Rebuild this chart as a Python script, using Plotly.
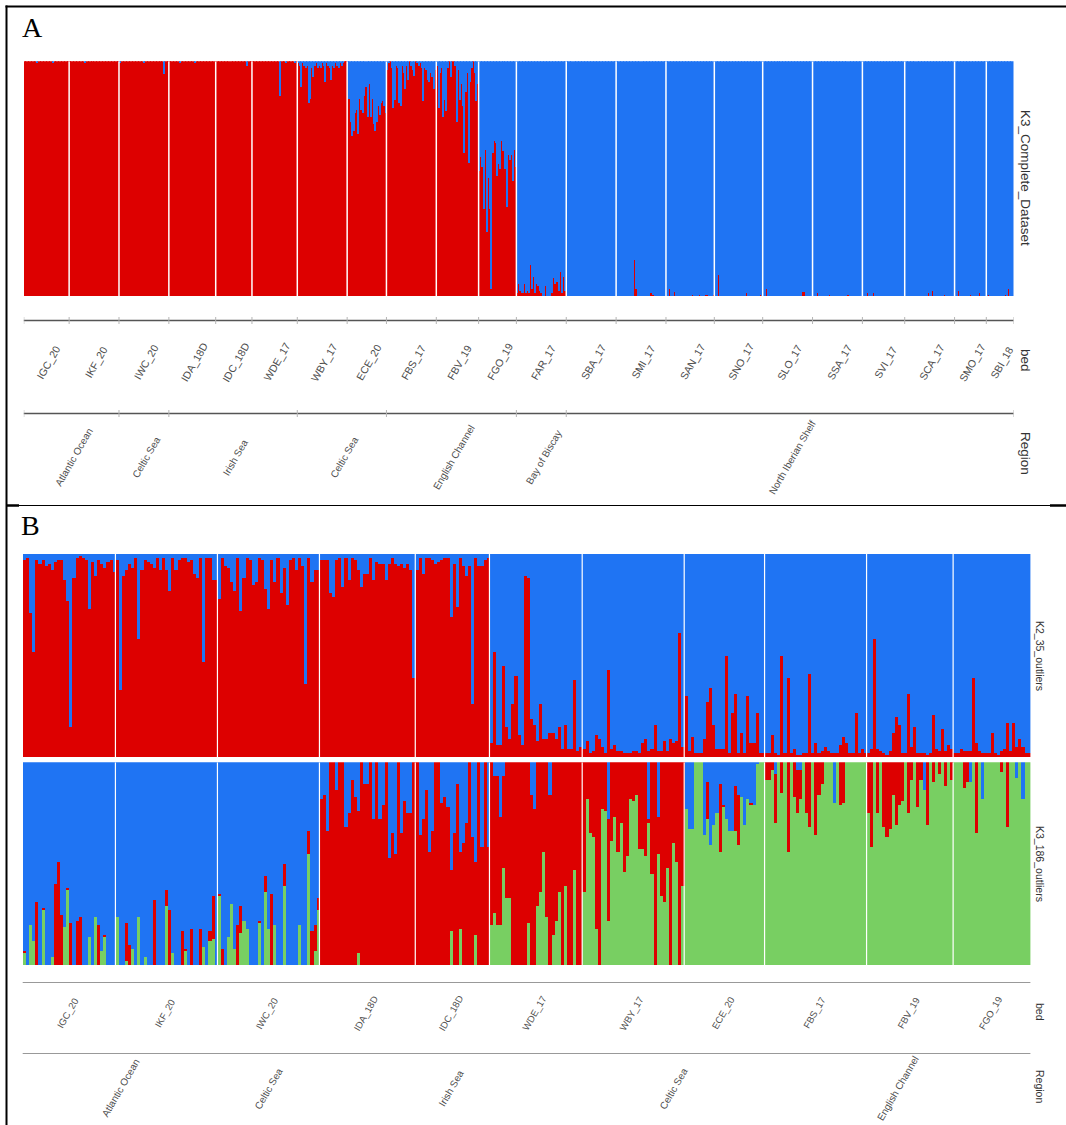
import plotly.graph_objects as go

W, H = 1066, 1125
RED, BLUE, GREEN = "#DD0000", "#1F74F3", "#78CF62"
TXT = "#4d4d4d"
STRIP = "#333333"
SANS = "Liberation Sans, Arial, sans-serif"
SERIF = "Liberation Serif, Times New Roman, serif"

# ------------------------------------------------------------------ data
# Panel A : K3_Complete_Dataset  (proportion of the red cluster per individual; rest is blue)
beds_A = ["IGC_20", "IKF_20", "IWC_20", "IDA_18D", "IDC_18D", "WDE_17", "WBY_17", "ECE_20",
          "FBS_17", "FBV_19", "FGO_19", "FAR_17", "SBA_17", "SMI_17", "SAN_17", "SNO_17",
          "SLO_17", "SSA_17", "SVI_17", "SCA_17", "SMO_17", "SBI_18"]
regions_A = ["Atlantic Ocean", "Celtic Sea", "Irish Sea", "Celtic Sea", "English Channel",
             "Bay of Biscay", "North Iberian Shelf"]
region_nbeds_A = [2, 1, 3, 2, 3, 1, 10]

a_IGC_20 = [1, 1, 1, 1, 1, 1, 1, 1, 0.99, 1, 1, 1, 1, 1, 1, 1, 1, 1, 1, 0.99, 1, 1, 1, 1, 1, 1, 1, 1, 1, 1]
a_IKF_20 = [1, 1, 1, 1, 1, 1, 1, 1, 1, 1, 0.99, 1, 1, 1, 1, 1, 1, 1, 1, 1, 1, 1, 1, 1, 1, 1, 1, 1, 1, 1, 1, 1, 1]
a_IWC_20 = [0.99, 1, 1, 1, 1, 1, 1, 1, 1, 1, 1, 1, 1, 1, 1, 1, 0.99, 1, 1, 1, 1, 1, 1, 1, 1, 1, 1, 1, 1, 0.945, 1, 1, 1]
a_IDA_18D = [1, 1, 1, 1, 1, 1, 1, 0.99, 1, 1, 1, 1, 1, 1, 1, 1, 1, 0.99, 1, 1, 1, 1, 1, 1, 1, 1, 1, 1, 1, 1, 1]
a_IDC_18D = [1, 1, 1, 1, 1, 1, 1, 1, 1, 1, 1, 1, 1, 1, 1, 1, 1, 1, 1, 1, 0.98, 1, 1, 1]
a_WDE_17 = [1, 1, 1, 1, 1, 1, 1, 1, 1, 1, 1, 1, 1, 1, 1, 1, 1, 1, 0.85, 1, 1, 1, 0.99, 1, 1, 1, 1, 1, 0.99, 1]
a_WBY_17 = [0.99, 0.98, 0.89, 0.99, 0.98, 0.97, 0.98, 0.82, 0.84, 0.97, 0.93, 0.98, 0.99, 0.97, 0.98, 0.97,
            0.99, 0.98, 0.91, 0.99, 0.98, 0.97, 0.92, 0.98, 0.97, 0.99, 0.98, 0.97, 0.99, 0.98, 0.99, 1, 1]
a_ECE_20 = [0.92, 0.84, 0.74, 0.68, 0.70, 0.78, 0.79, 0.69, 0.84, 0.79, 0.78, 0.85, 0.89, 0.76, 0.90, 0.76,
            0.84, 0.73, 0.70, 0.74, 0.81, 0.77, 0.82, 0.83, 0.81, 0.78]
a_FBS_17 = [0.96, 0.99, 1.0, 0.97, 0.80, 0.835, 0.98, 0.97, 0.82, 0.81, 0.98, 0.95, 0.88, 0.98, 0.92, 1.0,
            0.98, 0.96, 0.935, 1.0, 0.99, 0.98, 0.99, 0.97, 0.83, 0.97, 0.96, 0.92, 0.91, 0.95, 0.93, 0.88, 0.96]
a_FBV_19 = [0.98, 0.80, 0.95, 0.97, 0.76, 0.835, 0.785, 0.97, 1.0, 0.93, 1.0, 1.0, 0.98, 0.74, 0.96, 0.835,
            0.90, 0.81, 0.61, 0.87, 0.95, 0.565, 0.91, 0.97, 1.0, 0.95, 0.83, 0.90]
a_FGO_19 = [0.53, 0.59, 0.55, 0.37, 0.62, 0.27, 0.50, 0.37, 0.03, 0.61, 0.66, 0.65, 0.51, 0.56, 0.54, 0.66,
            0.615, 0.54, 0.38, 0.60, 0.58, 0.60, 0.49, 0.62, 0.55]
a_FAR_17 = [0.01, 0.05, 0.02, 0.01, 0.01, 0.05, 0.01, 0.02, 0.01, 0.13, 0.03, 0.08, 0.01, 0.05, 0.04, 0.02,
            0.01, 0, 0, 0.04, 0, 0, 0, 0.01, 0.075, 0.05, 0.06, 0.06, 0.02, 0.10, 0.01, 0.08, 0.02]
a_SBA_17 = [0, 0, 0, 0, 0, 0, 0, 0, 0, 0, 0, 0, 0, 0, 0, 0, 0, 0, 0, 0, 0, 0, 0, 0, 0, 0, 0, 0, 0, 0, 0, 0, 0]
a_SMI_17 = [0, 0, 0, 0, 0, 0, 0, 0, 0, 0, 0, 0, 0.15, 0.03, 0, 0, 0, 0, 0, 0, 0, 0, 0.01, 0.01, 0.005, 0, 0, 0, 0, 0, 0, 0, 0]
a_SAN_17 = [0, 0, 0.03, 0, 0, 0.015, 0, 0, 0, 0, 0, 0, 0, 0, 0, 0, 0, 0.005, 0, 0, 0, 0, 0.005, 0, 0, 0, 0.005, 0.005, 0, 0, 0, 0.005]
a_SNO_17 = [0, 0, 0.09, 0, 0, 0, 0, 0, 0, 0, 0, 0, 0, 0, 0, 0, 0, 0, 0, 0, 0, 0.01, 0, 0, 0, 0, 0, 0, 0, 0, 0.005, 0]
a_SLO_17 = [0, 0, 0.03, 0, 0, 0, 0, 0, 0, 0, 0, 0, 0, 0, 0, 0, 0, 0, 0, 0, 0, 0, 0, 0, 0, 0, 0.015, 0.015, 0, 0, 0, 0, 0]
a_SSA_17 = [0, 0, 0, 0.01, 0, 0, 0, 0, 0, 0, 0, 0.005, 0, 0, 0, 0, 0, 0, 0, 0, 0, 0, 0, 0.005, 0, 0, 0, 0, 0, 0, 0, 0, 0]
a_SVI_17 = [0, 0, 0, 0.01, 0, 0, 0, 0.01, 0, 0, 0, 0, 0, 0, 0, 0, 0, 0, 0, 0, 0, 0, 0, 0, 0, 0, 0, 0]
a_SCA_17 = [0, 0, 0, 0, 0, 0, 0, 0, 0, 0, 0, 0, 0, 0, 0, 0.01, 0, 0, 0.02, 0, 0, 0, 0, 0, 0, 0, 0.005, 0, 0, 0, 0, 0, 0]
a_SMO_17 = [0, 0, 0.02, 0, 0, 0, 0, 0, 0, 0, 0.005, 0, 0, 0, 0, 0, 0.01, 0, 0, 0, 0]
a_SBI_18 = [0, 0.005, 0, 0, 0, 0, 0, 0, 0, 0, 0, 0, 0.005, 0, 0.03, 0, 0, 0]

red_A = [a_IGC_20, a_IKF_20, a_IWC_20, a_IDA_18D, a_IDC_18D, a_WDE_17, a_WBY_17, a_ECE_20, a_FBS_17,
         a_FBV_19, a_FGO_19, a_FAR_17, a_SBA_17, a_SMI_17, a_SAN_17, a_SNO_17, a_SLO_17, a_SSA_17,
         a_SVI_17, a_SCA_17, a_SMO_17, a_SBI_18]

# Panel B : beds shared by both outlier analyses
beds_B = ["IGC_20", "IKF_20", "IWC_20", "IDA_18D", "IDC_18D", "WDE_17", "WBY_17", "ECE_20",
          "FBS_17", "FBV_19", "FGO_19"]
regions_B = ["Atlantic Ocean", "Celtic Sea", "Irish Sea", "Celtic Sea", "English Channel"]
region_nbeds_B = [2, 1, 3, 2, 3]

# K2_35_outliers : red cluster proportion (rest blue)
k2_IGC = [0.97, 0.98, 0.71, 0.52, 0.97, 0.95, 0.97, 0.94, 0.95, 0.92, 0.96, 0.97, 0.97, 0.87, 0.77, 0.15,
          0.88, 0.98, 0.99, 0.98, 0.97, 0.73, 0.96, 0.89, 0.97, 0.95, 0.93, 0.96, 0.97, 0.91]
k2_IKF = [0.97, 0.33, 0.89, 0.92, 0.95, 0.93, 0.98, 0.58, 0.92, 0.97, 0.96, 0.95, 0.93, 0.98, 0.92, 0.98,
          0.92, 0.82, 0.98, 0.92, 0.97, 0.98, 0.98, 0.96, 0.97, 0.90, 0.88, 0.98, 0.47, 0.98, 0.98, 0.87, 0.87]
k2_IWC = [0.78, 0.98, 0.94, 0.93, 0.86, 0.82, 0.98, 0.72, 0.88, 0.98, 0.97, 0.85, 0.86, 0.98, 0.97, 0.83,
          0.73, 0.97, 0.86, 0.98, 0.81, 0.93, 0.75, 0.97, 0.98, 0.92, 0.98, 0.94, 0.36, 0.98, 0.86, 0.92, 0.92]
k2_IDA = [0.97, 0.97, 0.97, 0.81, 0.79, 0.97, 0.98, 0.84, 0.98, 0.87, 0.98, 0.97, 0.92, 0.84, 0.90, 0.90,
          0.98, 0.87, 0.96, 0.95, 0.95, 0.87, 0.95, 0.98, 0.95, 0.94, 0.95, 0.93, 0.95, 0.92, 0.39]
k2_IDC = [0.92, 0.98, 0.90, 0.98, 0.98, 0.97, 0.95, 0.96, 0.97, 0.98, 0.98, 0.69, 0.95, 0.74, 0.98, 0.94,
          0.89, 0.94, 0.26, 0.98, 0.94, 0.94, 0.97, 0.98]
k2_WDE = [0.07, 0.52, 0.06, 0.06, 0.45, 0.15, 0.09, 0.26, 0.40, 0.11, 0.06, 0.89, 0.88, 0.19, 0.16, 0.08,
          0.26, 0.09, 0.09, 0.12, 0.12, 0.09, 0.15, 0.04, 0.16, 0.04, 0.04, 0.38, 0.03, 0.05]
k2_WBY = [0.04, 0.08, 0.02, 0.03, 0.11, 0.09, 0.05, 0.02, 0.43, 0.04, 0.06, 0.03, 0.03, 0.02, 0.02, 0.02,
          0.03, 0.03, 0.02, 0.07, 0.09, 0.03, 0.04, 0.16, 0.03, 0.03, 0.08, 0.03, 0.09, 0.07, 0.08, 0.61, 0.05]
k2_ECE = [0.30, 0.03, 0.10, 0.02, 0.02, 0.02, 0.09, 0.27, 0.34, 0.16, 0.04, 0.04, 0.04, 0.50, 0.02, 0.22,
          0.31, 0.02, 0.12, 0.02, 0.30, 0.07, 0.07, 0.22, 0.02, 0.02]
k2_FBS = [0.02, 0.02, 0.11, 0.02, 0.01, 0.50, 0.02, 0.39, 0.02, 0.04, 0.01, 0.01, 0.02, 0.02, 0.41, 0.02,
          0.07, 0.02, 0.03, 0.05, 0.03, 0.02, 0.02, 0.02, 0.06, 0.10, 0.07, 0.02, 0.02, 0.22, 0.02, 0.04, 0.02]
k2_FBV = [0.02, 0.04, 0.58, 0.04, 0.03, 0.02, 0.01, 0.03, 0.12, 0.20, 0.16, 0.02, 0.02, 0.31, 0.05, 0.15,
          0.02, 0.02, 0.02, 0.01, 0.02, 0.21, 0.04, 0.03, 0.14, 0.03, 0.06, 0.04]
k2_FGO = [0.02, 0.02, 0.04, 0.03, 0.03, 0.03, 0.39, 0.07, 0.03, 0.02, 0.02, 0.02, 0.12, 0.02, 0.01, 0.03,
          0.04, 0.17, 0.03, 0.17, 0.05, 0.09, 0.05, 0.02, 0.02]
red_K2 = [k2_IGC, k2_IKF, k2_IWC, k2_IDA, k2_IDC, k2_WDE, k2_WBY, k2_ECE, k2_FBS, k2_FBV, k2_FGO]

# K3_186_outliers : green and red cluster proportions (rest blue)
k3g_IGC = [0.06, 0, 0.20, 0.12, 0, 0, 0.27, 0, 0, 0.04, 0, 0, 0, 0.19, 0.37, 0, 0, 0, 0, 0, 0, 0.14, 0,
           0.24, 0, 0.07, 0.14, 0, 0, 0]
k3r_IGC = [0.01, 0, 0, 0, 0.31, 0, 0.01, 0, 0, 0, 0.40, 0.51, 0.25, 0, 0.01, 0.21, 0, 0.22, 0.24, 0, 0, 0,
           0, 0, 0.20, 0, 0.01, 0, 0, 0]
k3g_IKF = [0.24, 0, 0, 0.02, 0, 0.08, 0, 0.24, 0, 0.04, 0, 0, 0, 0, 0, 0, 0.29, 0, 0.06, 0, 0, 0, 0.07, 0,
           0, 0, 0, 0, 0.09, 0, 0.12, 0.13, 0]
k3r_IKF = [0, 0, 0, 0.19, 0.10, 0, 0, 0, 0, 0, 0, 0, 0.32, 0, 0, 0, 0.08, 0.27, 0, 0, 0, 0.17, 0.01, 0,
           0.18, 0, 0, 0.18, 0, 0, 0.05, 0.21, 0]
k3g_IWC = [0.34, 0, 0, 0.14, 0.30, 0.08, 0, 0.16, 0.22, 0.18, 0, 0, 0, 0.21, 0, 0.36, 0.18, 0, 0.20, 0, 0,
           0.39, 0, 0, 0, 0, 0.20, 0, 0, 0.55, 0, 0.07, 0.27]
k3r_IWC = [0.01, 0.08, 0, 0, 0, 0, 0.20, 0.13, 0, 0, 0, 0, 0, 0.01, 0, 0.08, 0, 0.35, 0, 0, 0, 0.11, 0, 0,
           0, 0, 0, 0, 0, 0.11, 0.17, 0.13, 0.06]
k3g_IDA = [0, 0, 0, 0, 0, 0, 0, 0, 0, 0, 0, 0, 0.06, 0, 0, 0, 0, 0, 0, 0, 0, 0, 0, 0, 0, 0, 0, 0, 0, 0, 0]
k3r_IDA = [0.82, 0.84, 0.66, 1, 1, 0.86, 1, 1, 0.68, 0.75, 0.91, 0.83, 0.70, 1, 0.89, 0.89, 1, 0.72, 1,
           0.72, 0.79, 1, 0.53, 0.65, 0.55, 1, 0.65, 0.81, 0.75, 0.75, 1]
k3g_IDC = [0, 0, 0, 0, 0, 0, 0, 0, 0, 0, 0, 0.17, 0, 0, 0.18, 0, 0, 0, 0, 0.15, 0, 0, 0, 0]
k3r_IDC = [1, 0.64, 0.72, 0.86, 0.56, 0.66, 1, 1, 0.80, 0.83, 0.78, 0.30, 0.65, 0.89, 0.38, 0.60, 0.70, 1,
           0.63, 0.36, 1, 0.58, 1, 0.58]
k3g_WDE = [0.20, 0.26, 0.20, 0.20, 0.48, 0.33, 0.33, 0, 0, 0, 0, 0, 0.21, 0, 0, 0.29, 0.36, 0.56, 0.24, 0,
           0.15, 0.22, 0.36, 0, 0.39, 0, 0, 0.47, 0, 0]
k3r_WDE = [0.80, 0.67, 0.73, 0.53, 0.45, 0.67, 0.67, 1, 1, 1, 1, 1, 0.79, 0.84, 0.77, 0.71, 0.64, 0.44,
           0.76, 0.84, 0.85, 0.78, 0.64, 1, 0.61, 1, 1, 0.53, 1, 1]
k3g_WBY = [0.36, 0.82, 0.65, 0.63, 0.18, 0, 0.77, 0.76, 0.22, 0.61, 0.73, 0.56, 0.70, 0.46, 0.54, 0.82,
           0.81, 0.84, 0.57, 0.57, 0.54, 0.70, 0.45, 0, 0.55, 0.34, 0.31, 0.48, 0, 0.60, 0.51, 0, 0.39]
k3r_WBY = [0.64, 0.18, 0.35, 0.37, 0.82, 1, 0.23, 0.24, 0.50, 0.39, 0.27, 0.44, 0.30, 0.54, 0.46, 0.18,
           0.19, 0.16, 0.43, 0.43, 0.46, 0.02, 0.55, 1, 0.18, 0.66, 0.69, 0.52, 1, 0.40, 0.49, 1, 0.61]
k3g_ECE = [0.77, 0.67, 0.67, 1, 1, 1, 0.64, 0.72, 0.59, 0.69, 0.75, 0.56, 0.78, 0.72, 0.66, 0.66, 0.66,
           0.59, 0.83, 0.69, 0.82, 0.79, 0.79, 0.99, 1, 1]
k3r_ECE = [0, 0, 0, 0, 0, 0, 0, 0.18, 0, 0, 0, 0.33, 0.01, 0, 0, 0, 0.22, 0.25, 0, 0, 0, 0.01, 0, 0, 0, 0]
k3g_FBS = [0.91, 0.91, 0.96, 0.70, 1, 0.85, 1, 0.56, 1, 0.83, 0.75, 0.82, 1, 0.75, 0.68, 1, 0.64, 0.84,
           0.89, 1, 1, 1, 0.80, 1, 0.79, 0.80, 1, 1, 1, 1, 1, 1, 1]
k3r_FBS = [0.09, 0.09, 0.04, 0.24, 0, 0.15, 0, 0.44, 0, 0.17, 0.21, 0.14, 0, 0.25, 0.32, 0, 0.36, 0.16,
           0.11, 0, 0, 0, 0, 0, 0.21, 0.20, 0, 0, 0, 0, 0, 0, 0]
k3g_FBV = [0.75, 0.58, 1, 0.75, 1, 0.68, 0.63, 0.67, 0.84, 0.69, 0.79, 0.81, 1, 0.75, 0.91, 1, 0.78, 0.91,
           0.86, 0.69, 1, 0.90, 1, 0.94, 1, 0.88, 1, 0.91]
k3r_FBV = [0.25, 0.42, 0, 0.25, 0, 0.32, 0.37, 0.33, 0.16, 0.31, 0.21, 0.19, 0, 0.25, 0.09, 0, 0.22, 0.09,
           0, 0.31, 0, 0.10, 0, 0.06, 0, 0.12, 0, 0.09]
k3g_FGO = [1, 1, 1, 0.87, 0.90, 0.90, 1, 0.65, 1, 0.82, 1, 1, 1, 1, 1, 0.95, 1, 0.68, 1, 1, 0.92, 1, 0.82, 1, 1]
k3r_FGO = [0, 0, 0, 0.13, 0.10, 0, 0, 0.35, 0, 0, 0, 0, 0, 0, 0, 0.05, 0, 0.32, 0, 0, 0, 0, 0, 0, 0]
green_K3 = [k3g_IGC, k3g_IKF, k3g_IWC, k3g_IDA, k3g_IDC, k3g_WDE, k3g_WBY, k3g_ECE, k3g_FBS, k3g_FBV, k3g_FGO]
red_K3 = [k3r_IGC, k3r_IKF, k3r_IWC, k3r_IDA, k3r_IDC, k3r_WDE, k3r_WBY, k3r_ECE, k3r_FBS, k3r_FBV, k3r_FGO]

# ------------------------------------------------------------------ helpers
def px(x):
    return x / W


def py(y):
    return 1 - y / H


def flatten(groups):
    out = []
    for g in groups:
        out.extend(g)
    return out


def bounds(groups):
    b = [0]
    for g in groups:
        b.append(b[-1] + len(g))
    return b


rA = flatten(red_A)
bA = [max(0.0, 1 - v) for v in rA]
nA = len(rA)
bndA = bounds(red_A)

rK2 = flatten(red_K2)
bK2 = [max(0.0, 1 - v) for v in rK2]
gK3 = flatten(green_K3)
rK3 = flatten(red_K3)
blK3 = [max(0.0, 1 - g - r) for g, r in zip(gK3, rK3)]
nB = len(rK2)
bndB = bounds(red_K2)

xA = [i + 0.5 for i in range(nA)]
xB = [i + 0.5 for i in range(nB)]

fig = go.Figure()


def add_bar(x, y, color, xa, ya):
    fig.add_trace(go.Bar(x=x, y=y, width=1, xaxis=xa, yaxis=ya, hoverinfo="skip",
                         marker=dict(color=color, line=dict(width=0))))


add_bar(xA, rA, RED, "x", "y")
add_bar(xA, bA, BLUE, "x", "y")
add_bar(xB, rK2, RED, "x2", "y2")
add_bar(xB, bK2, BLUE, "x2", "y2")
add_bar(xB, gK3, GREEN, "x3", "y3")
add_bar(xB, rK3, RED, "x3", "y3")
add_bar(xB, blK3, BLUE, "x3", "y3")

xdomA = [px(23.8), px(1013.5)]
xdomB = [px(22.7), px(1030.4)]
hid = dict(visible=False, fixedrange=True)
fig.update_layout(
    width=W, height=H, margin=dict(l=0, r=0, t=0, b=0),
    paper_bgcolor="white", plot_bgcolor="white", showlegend=False,
    barmode="stack", bargap=0,
    xaxis=dict(domain=xdomA, range=[0, nA], anchor="y", **hid),
    yaxis=dict(domain=[py(296), py(61.3)], range=[0, 1], anchor="x", **hid),
    xaxis2=dict(domain=xdomB, range=[0, nB], anchor="y2", **hid),
    yaxis2=dict(domain=[py(757.3), py(554)], range=[0, 1], anchor="x2", **hid),
    xaxis3=dict(domain=xdomB, range=[0, nB], anchor="y3", **hid),
    yaxis3=dict(domain=[py(965.7), py(762.3)], range=[0, 1], anchor="x3", **hid),
)

shapes = []
ann = []

# white separators between beds
for b in bndA[1:-1]:
    shapes.append(dict(type="line", xref="x", yref="y", x0=b, x1=b, y0=0, y1=1,
                       line=dict(color="white", width=1.5)))
for xr, yr in (("x2", "y2"), ("x3", "y3")):
    for b in bndB[1:-1]:
        shapes.append(dict(type="line", xref=xr, yref=yr, x0=b, x1=b, y0=0, y1=1,
                           line=dict(color="white", width=1.2)))


def hline(x0, x1, y, color, width):
    shapes.append(dict(type="line", xref="paper", yref="paper", x0=px(x0), x1=px(x1),
                       y0=py(y), y1=py(y), line=dict(color=color, width=width)))


# axis strips of panel A
hline(23.8, 1013.5, 320.5, "#555555", 1.3)
hline(23.8, 1013.5, 413.5, "#555555", 1.3)
reg_bnd_A = [0]
for k in region_nbeds_A:
    reg_bnd_A.append(reg_bnd_A[-1] + k)
for b in bndA:
    shapes.append(dict(type="line", xref="x", yref="paper", x0=b, x1=b, y0=py(317), y1=py(324),
                       line=dict(color="#b5b5b5", width=1)))
for k in reg_bnd_A:
    b = bndA[k]
    shapes.append(dict(type="line", xref="x", yref="paper", x0=b, x1=b, y0=py(410), y1=py(417),
                       line=dict(color="#b5b5b5", width=1)))

# axis strips of panel B
hline(22.7, 1030.4, 982.5, "#999999", 1)
hline(22.7, 1030.4, 1053.5, "#999999", 1)

# frame
hline(5.5, 1066, 6.5, "black", 2)
shapes.append(dict(type="line", xref="paper", yref="paper", x0=px(6.5), x1=px(6.5), y0=py(5.5), y1=py(1125),
                   line=dict(color="black", width=2)))
hline(6, 1066, 505.5, "black", 1.2)
hline(6, 19, 505.5, "black", 2.5)
hline(1050, 1066, 505.5, "black", 2.5)


def label(x, y, text, size, xref="paper", angle=0, color=TXT, family=SANS, xanchor="center", xshift=0):
    ann.append(dict(x=x, y=y, xref=xref, yref="paper", text=text, showarrow=False, textangle=angle,
                    font=dict(size=size, color=color, family=family), xanchor=xanchor, yanchor="middle",
                    xshift=xshift))


# bed labels
for i, bed in enumerate(beds_A):
    label((bndA[i] + bndA[i + 1]) / 2, py(362), bed, 10.5, xref="x", angle=-60, xshift=2)
for i, bed in enumerate(beds_B):
    label((bndB[i] + bndB[i + 1]) / 2, py(1013), bed, 9.5, xref="x2", angle=-60, xshift=-2)

# region labels
k = 0
for name, nb in zip(regions_A, region_nbeds_A):
    label((bndA[k] + bndA[k + nb]) / 2, py(457), name, 10, xref="x", angle=-60, xshift=2)
    k += nb
k = 0
for name, nb in zip(regions_B, region_nbeds_B):
    label((bndB[k] + bndB[k + nb]) / 2, py(1088), name, 10, xref="x2", angle=-60)
    k += nb

# right-hand strip texts
label(px(1026), py(178), "K3_Complete_Dataset", 13.5, angle=90, color=STRIP)
label(px(1026), py(360), "bed", 13.5, angle=90, color=STRIP)
label(px(1026), py(453), "Region", 13.5, angle=90, color=STRIP)
label(px(1040), py(656), "K2_35_outliers", 10.5, angle=90, color=STRIP)
label(px(1040), py(864), "K3_186_outliers", 10.5, angle=90, color=STRIP)
label(px(1040), py(1012), "bed", 10.5, angle=90, color=STRIP)
label(px(1040), py(1086), "Region", 10.5, angle=90, color=STRIP)

# panel letters
label(px(20), py(27), "A", 28, color="black", family=SERIF, xanchor="left")
label(px(19), py(525), "B", 28, color="black", family=SERIF, xanchor="left")

fig.update_layout(shapes=shapes, annotations=ann)
fig.write_html("out.html")
